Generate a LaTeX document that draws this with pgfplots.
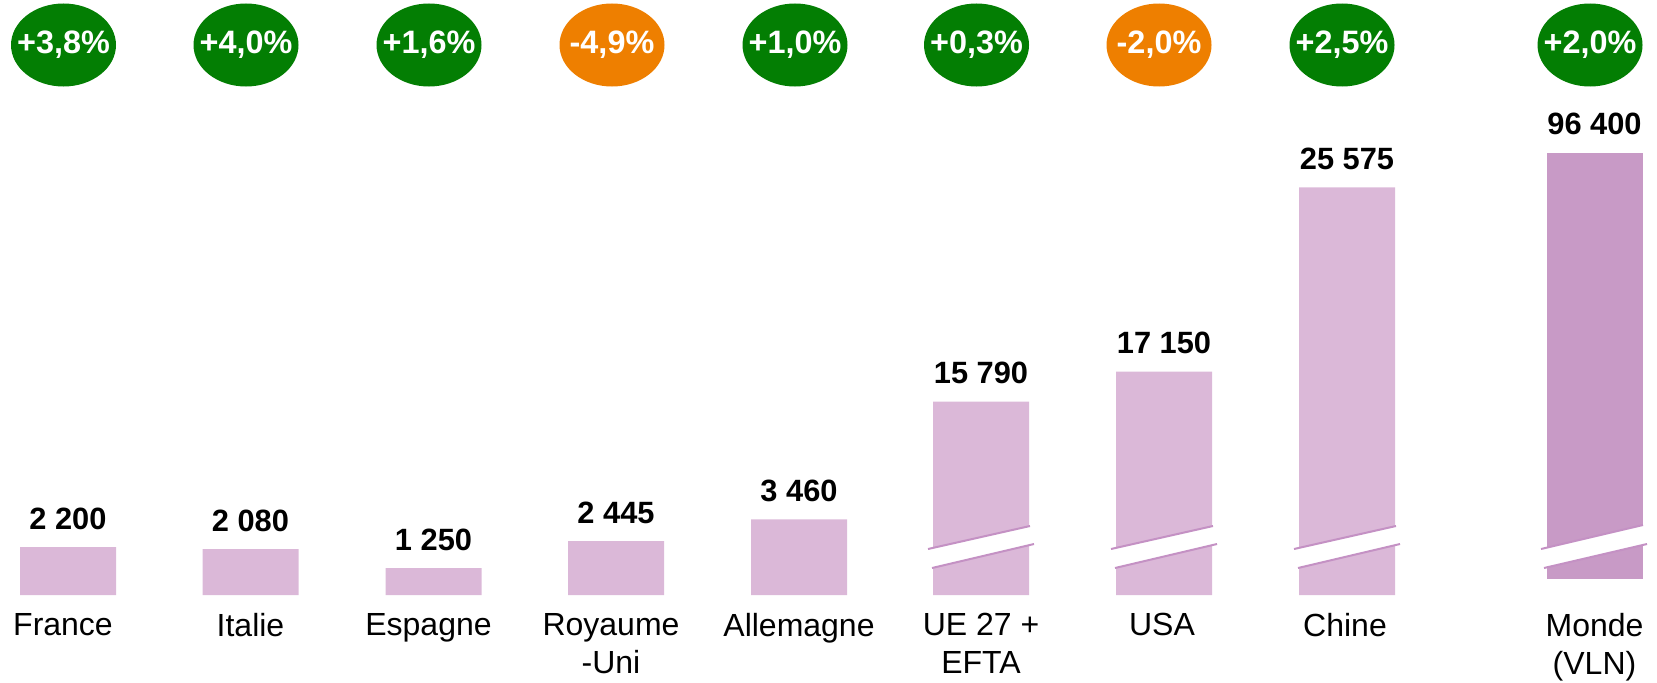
\documentclass[border=0pt]{standalone}
\usepackage{fontspec}
\setmainfont{Liberation Sans}
\usepackage{pgfplots}
\usepackage{pgfplotstable}
\pgfplotsset{compat=1.18}
\usetikzlibrary{shapes.geometric}
\definecolor{barc}{RGB}{219,184,216}
\definecolor{mondec}{RGB}{200,154,198}
\definecolor{brk}{RGB}{196,145,196}
\definecolor{upc}{RGB}{3,126,3}
\definecolor{downc}{RGB}{238,127,0}

% displayed height (px, broken bars truncated) and real value
\pgfplotstableread{
x h v
68 48 2200
250.5 46 2080
433.5 27 1250
616 54 2445
799 75.7 3460
981 193.3 15790
1164 223.3 17150
1347 407.7 25575
}\countries
\pgfplotstableread{
x h v
1594.5 426.3 96400
}\world
\pgfplotstableread{
x y lab
63.5 550 +3,8\%
246 550 +4,0\%
429 550 +1,6\%
795 550 +1,0\%
976.5 550 +0,3\%
1342 550 +2,5\%
1590 550 +2,0\%
}\upsign
\pgfplotstableread{
x y lab
612 550 -4,9\%
1159 550 -2,0\%
}\downsign

\pgfplotsset{
  base/.style={at={(0,0)}, anchor=south west, scale only axis,
    x=0.5pt, y=0.5pt, xmin=0, xmax=1657,
    axis line style={draw=none}, major tick length=0pt, ytick=\empty,
    clip=false,
    /pgf/number format/assume math mode=true,
    /pgf/number format/1000 sep={\ }},
  valnodes/.style={point meta=explicit, nodes near coords,
    every node near coord/.append style={anchor=base, yshift=9pt, inner sep=0pt,
      font=\fontsize{15.4}{18}\selectfont\bfseries, text=black}},
  pct/.style={draw=none, mark=none, point meta=explicit symbolic, nodes near coords,
    every node near coord/.append style={anchor=center, ellipse, fill=#1, text=white,
      inner xsep=-10pt, inner ysep=-2pt, minimum width=52.5pt, minimum height=41.5pt,
      font=\fontsize{16.2}{20}\selectfont\bfseries}},
}

\begin{document}
\begin{tikzpicture}
\useasboundingbox (0,0) rectangle (828.5pt,341pt);
\begin{axis}[base, ymin=-87, ymax=595,
  xtick={63,250.5,428.5,611,799,981,1162,1345,1594.5},
  xticklabels={France,Italie,Espagne,{Royaume\\-Uni},Allemagne,{UE 27 +\\EFTA},USA,Chine,{Monde\\(VLN)}},
  xticklabel style={align=center, anchor=north, inner sep=0pt, yshift=34.5pt,
    font=\fontsize{16}{19}\selectfont}]
\addplot[ybar, bar width=48pt, fill=barc, draw=none, valnodes]
  table[x=x, y=h, meta=v] {\countries};
% axis breaks
\fill[white] (928,46) -- (1030,69) -- (1034,51) -- (932,27) -- cycle;
\draw[brk, line width=1pt] (928,46) -- (1030,69);
\draw[brk, line width=1pt] (932,27) -- (1034,51);
\fill[white] (1111,46) -- (1213,69) -- (1217,51) -- (1115,27) -- cycle;
\draw[brk, line width=1pt] (1111,46) -- (1213,69);
\draw[brk, line width=1pt] (1115,27) -- (1217,51);
\fill[white] (1294,46) -- (1396,69) -- (1400,51) -- (1298,27) -- cycle;
\draw[brk, line width=1pt] (1294,46) -- (1396,69);
\draw[brk, line width=1pt] (1298,27) -- (1400,51);
\addplot[pct=upc] table[x=x, y=y, meta=lab] {\upsign};
\addplot[pct=downc] table[x=x, y=y, meta=lab] {\downsign};
\end{axis}
\begin{axis}[base, ymin=-103, ymax=579, xtick=\empty]
\addplot[ybar, bar width=48pt, fill=mondec, draw=none, valnodes]
  table[x=x, y=h, meta=v] {\world};
\fill[white] (1541,30) -- (1643,54) -- (1647,35) -- (1544,11) -- cycle;
\draw[brk, line width=1pt] (1541,30) -- (1643,54);
\draw[brk, line width=1pt] (1544,11) -- (1647,35);
\end{axis}
\end{tikzpicture}
\end{document}
